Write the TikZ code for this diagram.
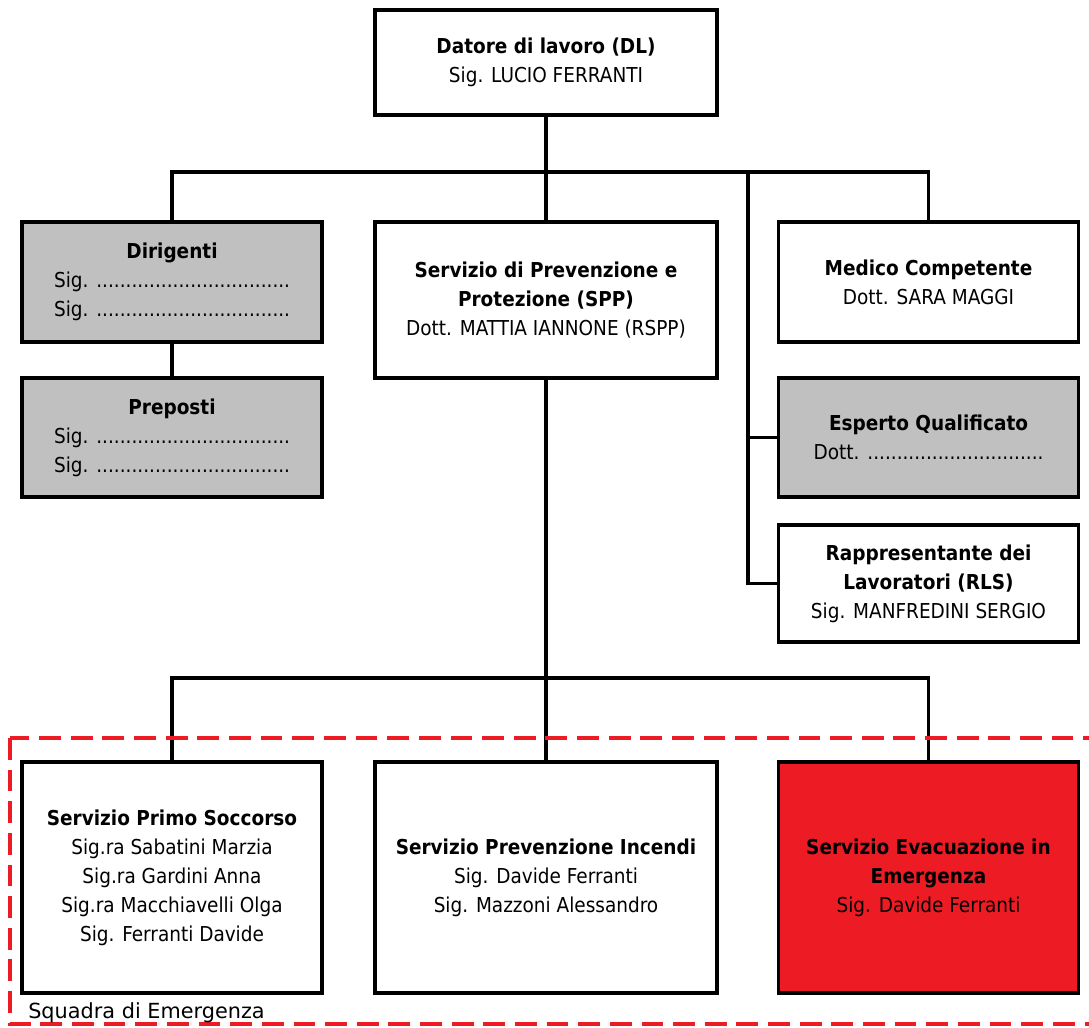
\documentclass[tikz,border=0pt]{standalone}
\usepackage{fontspec}
\setmainfont{DejaVu Sans Condensed}
\newfontfamily\labelfont{DejaVu Sans}
\usepackage{xcolor}
\usepackage{tikz}
\usetikzlibrary{positioning,calc}
\definecolor{boxgray}{HTML}{C0C0C0}
\definecolor{evacred}{HTML}{ED1C24}

\tikzset{
  orgbox/.style={draw,line width=2.5pt,align=center,inner sep=0pt,
    font=\fontsize{14.6}{20.6}\selectfont},
  wide/.style={minimum width=8.55cm},
  narrow/.style={minimum width=7.5cm},
  grayfill/.style={fill=boxgray},
  link/.style={line width=2.3pt},
  squadra/.style={evacred,line width=3pt,dash pattern=on 15.5pt off 7pt}
}

\begin{document}
\begin{tikzpicture}[x=0.025cm,y=-0.025cm]
  \useasboundingbox (0,0) rectangle (1089,1027);
  \node[orgbox,wide,minimum height=2.625cm] (dl) at (546,62.5)
    {\textbf{Datore di lavoro (DL)}\\Sig. LUCIO FERRANTI};
  \node[orgbox,narrow,grayfill,minimum height=3cm] (dir) at (172,282)
    {\textbf{Dirigenti}\\Sig. .................................\\Sig. .................................};
  \node[orgbox,narrow,grayfill,minimum height=2.975cm] (prep) at (172,437.5)
    {\textbf{Preposti}\\Sig. .................................\\Sig. .................................};
  \node[orgbox,wide,minimum height=3.9cm] (spp) at (546,300)
    {\textbf{Servizio di Prevenzione e}\\\textbf{Protezione (SPP)}\\Dott. MATTIA IANNONE (RSPP)};
  \node[orgbox,narrow,minimum height=3cm] (med) at (928.5,282)
    {\textbf{Medico Competente}\\Dott. SARA MAGGI};
  \node[orgbox,narrow,grayfill,minimum height=2.975cm] (esp) at (928.5,437.5)
    {\textbf{Esperto Qualificato}\\Dott. ..............................};
  \node[orgbox,narrow,minimum height=2.925cm] (rls) at (928.5,583.5)
    {\textbf{Rappresentante dei}\\\textbf{Lavoratori (RLS)}\\Sig. MANFREDINI SERGIO};
  \node[orgbox,narrow,minimum height=5.775cm] (soc) at (172,877.5)
    {\textbf{Servizio Primo Soccorso}\\Sig.ra Sabatini Marzia\\Sig.ra Gardini Anna\\Sig.ra Macchiavelli Olga\\Sig. Ferranti Davide};
  \node[orgbox,wide,minimum height=5.775cm] (inc) at (546,877.5)
    {\textbf{Servizio Prevenzione Incendi}\\Sig. Davide Ferranti\\Sig. Mazzoni Alessandro};
  \node[orgbox,narrow,fill=evacred,minimum height=5.775cm] (eva) at (928.5,877.5)
    {\textbf{Servizio Evacuazione in}\\\textbf{Emergenza}\\Sig. Davide Ferranti};

  \coordinate (topbus) at (546,172);
  \coordinate (sidebus) at (748,172);
  \coordinate (lowbus) at (546,678);
  \draw[link] (dl.south) -- (topbus);
  \draw[link] (dir.north) |- (topbus) -| (med.north);
  \draw[link] (spp.north) -- (topbus);
  \draw[link] (dir.south) -- (prep.north);
  \draw[link] (sidebus) |- (rls.west);
  \draw[link] (esp.west) -- (esp.west -| sidebus);
  \draw[link] (spp.south) -- (lowbus);
  \draw[link] (soc.north) |- (lowbus) -| (eva.north);
  \draw[link] (inc.north) -- (lowbus);

  \draw[squadra] (10,738) rectangle (1110,1024);
  \node[anchor=base west,inner sep=0pt,font=\labelfont\fontsize{14.8}{16}\selectfont] (sqlabel) at (28,1018) {Squadra di Emergenza};
\end{tikzpicture}
\end{document}
